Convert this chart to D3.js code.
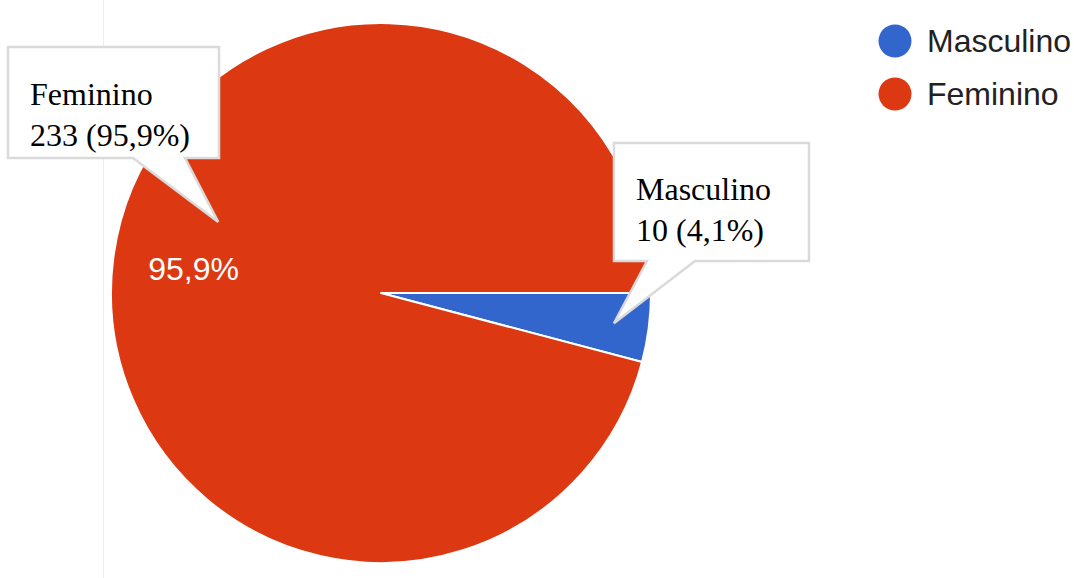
<!DOCTYPE html>
<html>
<head>
<meta charset="utf-8">
<script src="https://cdn.jsdelivr.net/npm/d3@7"></script>
<style>
  html, body { margin: 0; padding: 0; background: #fff; }
  svg { display: block; }
</style>
</head>
<body>
<svg id="chart" width="1074" height="578"></svg>
<script>
// Respondents by gender
const categories = ["Masculino", "Feminino"];
const counts = [10, 233];
const percentLabels = ["4,1%", "95,9%"];
const colors = ["#3366cc", "#dc3912"];

const svg = d3.select("#chart");
const W = 1074, H = 578;
const cx = 381, cy = 293, R = 270;

// faint panel edge on the left
svg.append("line")
  .attr("x1", 103.5).attr("x2", 103.5).attr("y1", 0).attr("y2", H)
  .attr("stroke", "#efefef").attr("stroke-width", 1);

const data = categories.map((c, i) => ({ name: c, value: counts[i], pct: percentLabels[i], color: colors[i] }));

// first slice starts at 3 o'clock and runs clockwise
const pie = d3.pie().value(d => d.value).sort(null)
  .startAngle(Math.PI / 2).endAngle(Math.PI / 2 + 2 * Math.PI);
const arcs = pie(data);
const arc = d3.arc().innerRadius(0).outerRadius(R);

const g = svg.append("g").attr("transform", `translate(${cx},${cy})`);
g.selectAll("path.slice").data(arcs).join("path")
  .attr("class", "slice")
  .attr("d", arc)
  .attr("fill", d => d.data.color)
  .attr("stroke", "#fff")
  .attr("stroke-width", 2)
  .attr("stroke-linejoin", "round");

// in-slice percentage (only large enough slices)
const labelArc = d3.arc().innerRadius(R * 0.7).outerRadius(R * 0.7);
g.selectAll("text.pct").data(arcs.filter(d => d.endAngle - d.startAngle > 0.5)).join("text")
  .attr("class", "pct")
  .attr("transform", d => `translate(${labelArc.centroid(d)})`)
  .attr("text-anchor", "middle")
  .attr("dy", "0.36em")
  .attr("font-family", "Liberation Sans, Arial, sans-serif")
  .attr("font-size", 32)
  .attr("fill", "#fff")
  .text(d => d.data.pct);

// callout boxes with pointers; tip given as (angle, fraction of radius),
// angle null = middle of the slice
const callouts = [
  { name: "Feminino", box: [8, 47, 211, 111], base: [133, 185], tipAngle: -1.159, tipR: 0.658, text: [30, 105] },
  { name: "Masculino", box: [614, 143, 195, 118], base: [647, 695], tipAngle: null, tipR: 0.87, text: [636, 200] }
];

callouts.forEach(c => {
  const a = arcs.find(d => d.data.name === c.name);
  const ang = c.tipAngle === null ? (a.startAngle + a.endAngle) / 2 : c.tipAngle;
  const tx = cx + Math.sin(ang) * R * c.tipR;
  const ty = cy - Math.cos(ang) * R * c.tipR;
  const [x, y, w, h] = c.box;
  const b = y + h;
  const p = d3.path();
  p.moveTo(x, y);
  p.lineTo(x + w, y);
  p.lineTo(x + w, b);
  p.lineTo(c.base[1], b);
  p.lineTo(tx, ty);
  p.lineTo(c.base[0], b);
  p.lineTo(x, b);
  p.closePath();
  svg.append("path")
    .attr("d", p.toString())
    .attr("fill", "#fff")
    .attr("stroke", "#dadada")
    .attr("stroke-width", 2.5)
    .attr("stroke-linejoin", "miter");
  const t = svg.append("text")
    .attr("x", c.text[0]).attr("y", c.text[1])
    .attr("font-family", "Liberation Serif, Times New Roman, serif")
    .attr("font-size", 32)
    .attr("fill", "#000");
  t.append("tspan").attr("x", c.text[0]).text(a.data.name);
  t.append("tspan").attr("x", c.text[0]).attr("dy", 40.5)
    .text(`${a.data.value} (${a.data.pct})`);
});

// legend
const legend = svg.append("g").attr("transform", "translate(895,41)");
const items = legend.selectAll("g").data(data).join("g")
  .attr("transform", (d, i) => `translate(0,${i * 53})`);
items.append("circle").attr("r", 16.5).attr("fill", d => d.color);
items.append("text")
  .attr("x", 32).attr("dy", "0.35em")
  .attr("font-family", "Liberation Sans, Arial, sans-serif")
  .attr("font-size", 32)
  .attr("fill", "#222")
  .text(d => d.name);
</script>
</body>
</html>
